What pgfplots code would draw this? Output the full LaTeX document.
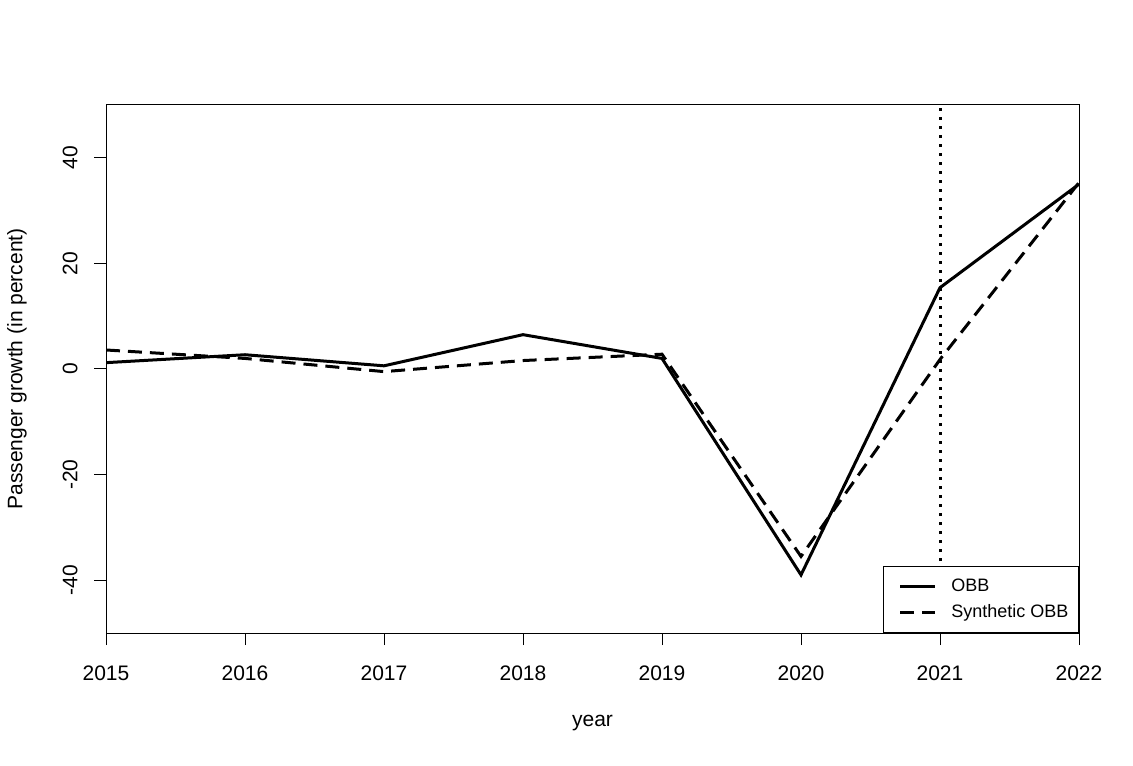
\documentclass[border=0pt]{standalone}
\usepackage{pgfplots}
\pgfplotsset{compat=1.18}
\usepackage{fontspec}
\setmainfont{Liberation Sans}
\begin{document}
\begin{tikzpicture}
\useasboundingbox (-53pt,-66pt) rectangle (513.5pt,316.5pt);
\begin{axis}[
  scale only axis, width=486.5pt, height=264pt,
  xmin=2015, xmax=2022, ymin=-50, ymax=50,
  axis line style={line width=0.5pt},
  xtick={2015,2016,2017,2018,2019,2020,2021,2022},
  xticklabels={2015,2016,2017,2018,2019,2020,2021,2022},
  ytick={-40,-20,0,20,40},
  yticklabels={-40,-20,0,20,40},
  tick align=outside, major tick length=6pt,
  tick style={black, line width=0.5pt},
  xtick pos=bottom, ytick pos=left,
  ticklabel style={font=\fontsize{10.5}{12}\selectfont},
  xticklabel style={anchor=center, yshift=-14pt},
  yticklabel style={anchor=center, xshift=-12pt, rotate=90},
  every axis x label/.style={at={(axis description cs:0.5,0)}, yshift=-45pt, anchor=center, font=\fontsize{10.5}{12}\selectfont},
  every axis y label/.style={at={(axis description cs:0,0.5)}, xshift=-44.5pt, rotate=90, anchor=center, font=\fontsize{10.5}{12}\selectfont},
  xlabel={year},
  ylabel={Passenger growth (in percent)},
  legend style={at={(1,0)}, anchor=south east, draw=black, line width=0.5pt,
    font=\fontsize{9}{11}\selectfont, inner xsep=3pt, inner ysep=4pt,
    row sep=1pt},
  legend cell align=left,
  legend image code/.code={\path[draw=none] (0pt,0pt) -- (29pt,0pt); \draw[#1] (5.5pt,0pt) -- (23pt,0pt);},
]
\addplot[black, line width=1.5pt] coordinates {
(2015,1.2) (2016,2.7) (2017,0.6) (2018,6.5) (2019,2.0) (2020,-39.0) (2021,15.4) (2022,35.0)};
\addlegendentry{OBB}
\addplot[black, line width=1.5pt, dash pattern=on 7pt off 4pt] coordinates {
(2015,3.6) (2016,2.0) (2017,-0.5) (2018,1.6) (2019,2.8) (2020,-35.5) (2021,1.8) (2022,35.3)};
\addlegendentry{Synthetic OBB}
\addplot[black, line width=1.5pt, dash pattern=on 1.5pt off 3pt, forget plot] coordinates {(2021,-50) (2021,50)};
\end{axis}
\end{tikzpicture}
\end{document}
